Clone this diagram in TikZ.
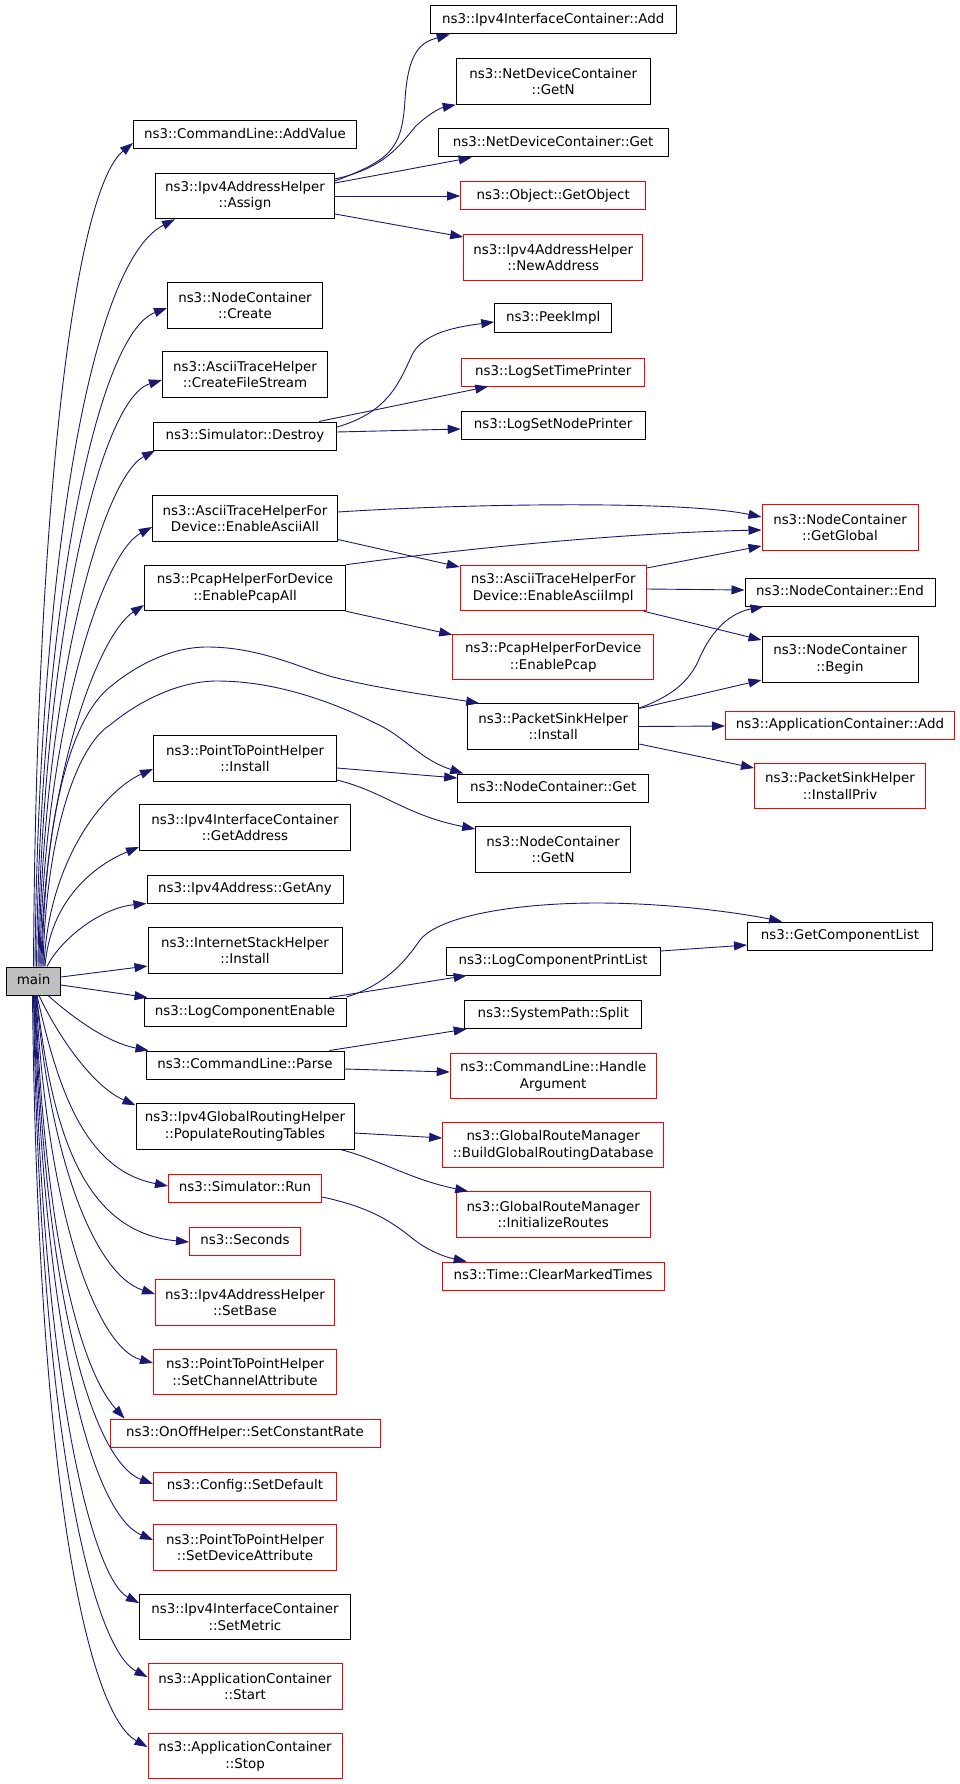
\documentclass[tikz,border=0pt]{standalone}
\usepackage{fontspec}
\setmainfont{DejaVu Sans}
\usetikzlibrary{arrows.meta}
\definecolor{edgeblue}{RGB}{25,25,112}
\definecolor{maingray}{RGB}{191,191,191}

\begin{document}
\begin{tikzpicture}[x=1pt, y=-1pt, >={Triangle[length=13pt,width=9pt]},
    box/.style={draw, line width=1pt, inner xsep=6pt, inner ysep=0pt, font=\fontsize{13.4}{16.6}\selectfont},
    one/.style={box, minimum height=28pt, text height=10pt, text depth=3.4pt},
    two/.style={box, minimum height=45.5pt, align=center},
    blk/.style={one, draw=black},
    blktwo/.style={two, draw=black},
    rd/.style={one, draw=red},
    rdtwo/.style={two, draw=red},
    calls/.style={->, color=edgeblue, line width=0.9pt}]
\useasboundingbox (0,0) rectangle (960,1784);

\node[blk, fill=maingray, minimum width=54pt] (main) at (33.5,981) {main};
\foreach \nm/\yy/\ww/\st/\txt in {addvalue/135/223/blk/{ns3::CommandLine::AddValue},
    assign/196/179/blktwo/{ns3::Ipv4AddressHelper\\::Assign},
    create/305.5/155/blktwo/{ns3::NodeContainer\\::Create},
    filestream/374.5/165/blktwo/{ns3::AsciiTraceHelper\\::CreateFileStream},
    destroy/436/183/blk/{ns3::Simulator::Destroy},
    asciiall/518.5/185/blktwo/{ns3::AsciiTraceHelperFor\\Device::EnableAsciiAll},
    pcapall/588/201/blktwo/{ns3::PcapHelperForDevice\\::EnablePcapAll},
    p2pinstall/758.5/183/blktwo/{ns3::PointToPointHelper\\::Install},
    getaddress/827.5/211/blktwo/{ns3::Ipv4InterfaceContainer\\::GetAddress},
    getany/889/196/blk/{ns3::Ipv4Address::GetAny},
    stackinstall/950.5/194/blktwo/{ns3::InternetStackHelper\\::Install},
    logenable/1012/202/blk/{ns3::LogComponentEnable},
    parse/1065/198/blk/{ns3::CommandLine::Parse},
    populate/1126.5/218/blktwo/{ns3::Ipv4GlobalRoutingHelper\\::PopulateRoutingTables},
    simrun/1188/153/rd/{ns3::Simulator::Run},
    seconds/1241/111/rd/{ns3::Seconds},
    setbase/1302.5/179/rdtwo/{ns3::Ipv4AddressHelper\\::SetBase},
    setchannel/1372/183/rdtwo/{ns3::PointToPointHelper\\::SetChannelAttribute},
    constrate/1433/270/rd/{ns3::OnOffHelper::SetConstantRate},
    setdefault/1486.5/183/rd/{ns3::Config::SetDefault},
    setdevice/1547.5/183/rdtwo/{ns3::PointToPointHelper\\::SetDeviceAttribute},
    setmetric/1617/211/blktwo/{ns3::Ipv4InterfaceContainer\\::SetMetric},
    appstart/1686.5/194/rdtwo/{ns3::ApplicationContainer\\::Start},
    appstop/1756/194/rdtwo/{ns3::ApplicationContainer\\::Stop}}
{
    \node[\st, minimum width=\ww pt] (\nm) at (245,\yy) {\txt};
}
\foreach \nm/\yy/\ww/\st/\txt in {ifcadd/20/246/blk/{ns3::Ipv4InterfaceContainer::Add},
    devgetn/81.5/194/blktwo/{ns3::NetDeviceContainer\\::GetN},
    devget/143/230/blk/{ns3::NetDeviceContainer::Get},
    getobject/196/185/rd/{ns3::Object::GetObject},
    newaddress/257.5/179/rdtwo/{ns3::Ipv4AddressHelper\\::NewAddress},
    peekimpl/318/117/blk/{ns3::PeekImpl},
    timeprinter/372/183/rd/{ns3::LogSetTimePrinter},
    nodeprinter/425/184/blk/{ns3::LogSetNodePrinter},
    asciiimpl/588/186/rdtwo/{ns3::AsciiTraceHelperFor\\Device::EnableAsciiImpl},
    pcap/657/201/rdtwo/{ns3::PcapHelperForDevice\\::EnablePcap},
    sinkinstall/726.5/171/blktwo/{ns3::PacketSinkHelper\\::Install},
    ncget/788/191/blk/{ns3::NodeContainer::Get},
    ncgetn/849.5/155/blktwo/{ns3::NodeContainer\\::GetN},
    printlist/961/214/blk/{ns3::LogComponentPrintList},
    split/1014.5/177/blk/{ns3::SystemPath::Split},
    handlearg/1076/206/rdtwo/{ns3::CommandLine::Handle\\Argument},
    buildgrd/1145/221/rdtwo/{ns3::GlobalRouteManager\\::BuildGlobalRoutingDatabase},
    initroutes/1214.5/194/rdtwo/{ns3::GlobalRouteManager\\::InitializeRoutes},
    clearmarked/1276/222/rd/{ns3::Time::ClearMarkedTimes}}
{
    \node[\st, minimum width=\ww pt] (\nm) at (553.2,\yy) {\txt};
}
\foreach \nm/\yy/\ww/\st/\txt in {getglobal/527.5/156/rdtwo/{ns3::NodeContainer\\::GetGlobal},
    ncend/592/190/blk/{ns3::NodeContainer::End},
    ncbegin/659.5/156/blktwo/{ns3::NodeContainer\\::Begin},
    appadd/725/229/rd/{ns3::ApplicationContainer::Add},
    installpriv/786/171/rdtwo/{ns3::PacketSinkHelper\\::InstallPriv},
    complist/936/185/blk/{ns3::GetComponentList}}
{
    \node[\st, minimum width=\ww pt] (\nm) at (840,\yy) {\txt};
}

\draw[calls] (main.north) .. controls (36,500) and (75,190) .. ([yshift=-8pt]addvalue.west);
\draw[calls] ([xshift=1.5pt]main.north) .. controls (38,600) and (85,265) .. ([xshift=20pt]assign.south west);
\draw[calls] ([xshift=3pt]main.north) .. controls (40,620) and (95,335) .. ([yshift=-2.5pt]create.west);
\draw[calls] ([xshift=4.5pt]main.north) .. controls (41,660) and (97,400) .. ([yshift=-5.5pt]filestream.west);
\draw[calls] ([xshift=5.5pt]main.north) .. controls (42,700) and (100,480) .. ([xshift=2pt]destroy.south west);
\draw[calls] ([xshift=6.5pt]main.north) .. controls (43,740) and (100,555) .. ([yshift=-8.5pt]asciiall.west);
\draw[calls] ([xshift=7.5pt]main.north) .. controls (44,780) and (98,635) .. ([yshift=-17pt]pcapall.west);
\draw[calls] ([xshift=8.5pt]main.north) .. controls (45,800) and (75,715) .. (110,687)
    .. controls (140,662) and (175,647) .. (207,647) .. controls (260,647) and (300,668) .. (333,677)
    .. controls (380,689) and (435,696) .. ([xshift=12pt]sinkinstall.north west);
\draw[calls] ([xshift=9.5pt]main.north) .. controls (46,830) and (78,745) .. (110,725)
    .. controls (140,700) and (180,681) .. (217,681) .. controls (280,681) and (340,705) .. (383,727)
    .. controls (407,740) and (422,760) .. ([xshift=6pt]ncget.north west);
\draw[calls] ([xshift=10.5pt]main.north) .. controls (48,860) and (105,790) .. ([yshift=-10.5pt]p2pinstall.west);
\draw[calls] ([xshift=11.5pt]main.north) .. controls (50,900) and (95,865) .. ([yshift=-19.5pt]getaddress.west);
\draw[calls] ([xshift=13.5pt]main.north) .. controls (60,940) and (100,908) .. (getany.south west);
\draw[calls] ([yshift=4pt]main.east) -- ([yshift=-15.5pt]stackinstall.west);
\draw[calls] ([yshift=-4pt]main.east) -- ([xshift=4pt]logenable.north west);
\draw[calls] ([xshift=14.5pt]main.south) .. controls (70,1015) and (105,1042) .. ([xshift=3pt]parse.north west);
\draw[calls] ([xshift=5.5pt]main.south) .. controls (55,1030) and (90,1085) .. ([yshift=-2pt]populate.north west);
\draw[calls] ([xshift=3.5pt]main.south) .. controls (58,1090) and (85,1170) .. ([yshift=2pt]simrun.west);
\draw[calls] ([xshift=3pt]main.south) .. controls (52,1130) and (82,1232) .. ([yshift=-1pt]seconds.west);
\draw[calls] ([xshift=3pt]main.south) .. controls (50,1160) and (95,1275) .. ([yshift=8.5pt]setbase.west);
\draw[calls] ([xshift=2.5pt]main.south) .. controls (48,1220) and (98,1348) .. ([yshift=9pt]setchannel.west);
\draw[calls] ([xshift=2pt]main.south) .. controls (46,1260) and (85,1375) .. ([xshift=15pt]constrate.north west);
\draw[calls] ([xshift=1.5pt]main.south) .. controls (45,1310) and (95,1462) .. ([yshift=2.5pt]setdefault.west);
\draw[calls] ([xshift=1pt]main.south) .. controls (44,1350) and (95,1515) .. ([yshift=7.5pt]setdevice.west);
\draw[calls] ([xshift=0.5pt]main.south) .. controls (42,1400) and (95,1580) .. ([yshift=14pt]setmetric.west);
\draw[calls] (main.south) .. controls (40,1450) and (95,1650) .. ([yshift=9.5pt]appstart.west);
\draw[calls] ([xshift=-1pt]main.south) .. controls (38,1500) and (90,1715) .. ([yshift=9pt]appstop.west);

\draw[calls] ([yshift=15pt]assign.east) .. controls (390,160) and (402,150) .. (405,100)
    .. controls (408,50) and (422,42) .. ([xshift=20pt]ifcadd.south west);
\draw[calls] ([yshift=17pt]assign.east) .. controls (385,168) and (400,145) .. (415,127)
    .. controls (427,115) and (440,108) .. (devgetn.south west);
\draw[calls] ([yshift=13pt]assign.east) -- ([xshift=34pt]devget.south west);
\draw[calls] (assign.east) -- (getobject.west);
\draw[calls] ([yshift=-18pt]assign.east) -- ([yshift=20.5pt]newaddress.west);
\draw[calls] ([yshift=9pt]destroy.east) .. controls (390,412) and (400,380) .. (413,353)
    .. controls (425,333) and (455,327) .. ([yshift=-4pt]peekimpl.west);
\draw[calls] ([xshift=-18pt]destroy.north east) -- ([xshift=27pt]timeprinter.south west);
\draw[calls] ([yshift=4pt]destroy.east) -- ([yshift=-4pt]nodeprinter.west);
\draw[calls] ([yshift=6.5pt]asciiall.east) .. controls (460,504) and (680,500) .. ([yshift=10.5pt]getglobal.west);
\draw[calls] ([yshift=-21pt]asciiall.east) -- ([yshift=21pt]asciiimpl.west);
\draw[calls] (pcapall.north east) .. controls (460,549) and (620,533) .. ([yshift=-2.5pt]getglobal.west);
\draw[calls] (pcapall.south east) -- ([yshift=-1pt]pcap.north west);
\draw[calls] ([yshift=20pt]asciiimpl.east) -- ([yshift=-18.5pt]getglobal.west);
\draw[calls] ([yshift=-1pt]asciiimpl.east) -- ([yshift=2pt]ncend.west);
\draw[calls] ([xshift=-3pt]asciiimpl.south east) -- ([yshift=19.5pt]ncbegin.west);
\draw[calls] ([yshift=18.5pt]sinkinstall.east) .. controls (670,697) and (690,682) .. (700,657)
    .. controls (712,630) and (730,613) .. ([xshift=19pt]ncend.south west);
\draw[calls] ([yshift=18pt]sinkinstall.east) -- ([yshift=-20.5pt]ncbegin.west);
\draw[calls] (sinkinstall.east) -- ([yshift=-1pt]appadd.west);
\draw[calls] ([yshift=-17.5pt]sinkinstall.east) -- ([yshift=18pt]installpriv.west);
\draw[calls] ([yshift=-9.5pt]p2pinstall.east) -- ([yshift=10pt]ncget.west);
\draw[calls] ([yshift=-21.5pt]p2pinstall.east) .. controls (385,792) and (405,815) .. ([yshift=20.5pt]ncgetn.west);
\draw[calls] ([yshift=15pt]logenable.east) .. controls (385,985) and (405,962) .. (420,940)
    .. controls (440,915) and (520,903) .. (597,903) .. controls (670,903) and (740,913) .. ([xshift=35pt]complist.north west);
\draw[calls] ([xshift=-17pt]logenable.north east) -- ([xshift=21pt]printlist.south west);
\draw[calls] ([yshift=10pt]printlist.east) -- ([yshift=-9pt]complist.west);
\draw[calls] ([xshift=-15pt]parse.north east) -- ([xshift=2.5pt]split.south west);
\draw[calls] ([yshift=-4pt]parse.east) -- ([yshift=4pt]handlearg.west);
\draw[calls] ([yshift=-6.5pt]populate.east) -- ([yshift=7pt]buildgrd.west);
\draw[calls] ([xshift=-13pt]populate.south east) .. controls (380,1160) and (412,1180) .. ([xshift=12.5pt]initroutes.north west);
\draw[calls] ([yshift=-9pt]simrun.east) .. controls (370,1207) and (392,1222) .. (412,1238)
    .. controls (428,1251) and (445,1257) .. ([xshift=25pt]clearmarked.north west);

\end{tikzpicture}
\end{document}
